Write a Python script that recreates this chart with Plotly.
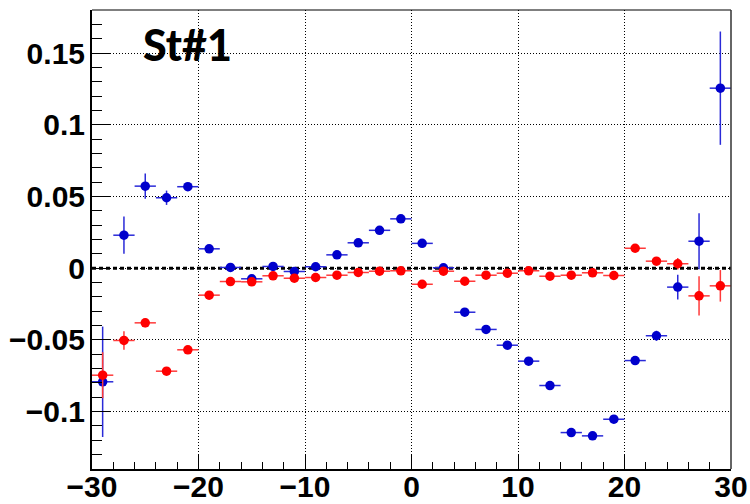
import plotly.graph_objects as go

# Bin centres (2-unit bins from -30 to 30)
x_centres = [-29, -27, -25, -23, -21, -19, -17, -15, -13, -11, -9, -7, -5, -3, -1,
             1, 3, 5, 7, 9, 11, 13, 15, 17, 19, 21, 23, 25, 27, 29]
x_half_width = [1.0] * len(x_centres)

blue_vals = [-0.0792, 0.0230, 0.0572, 0.0491, 0.0568, 0.0135, 0.0005, -0.0074, 0.0012, -0.0023,
             0.0010, 0.0093, 0.0177, 0.0264, 0.0344, 0.0173, 0.0003, -0.0307, -0.0427, -0.0537,
             -0.0648, -0.0818, -0.1146, -0.1169, -0.1053, -0.0644, -0.0471, -0.0132, 0.0188, 0.1255]
blue_errs = [0.0385, 0.0130, 0.0088, 0.0050, 0.0022, 0.0018, 0.0015, 0.0015, 0.0015, 0.0015,
             0.0015, 0.0015, 0.0015, 0.0015, 0.0015, 0.0015, 0.0015, 0.0015, 0.0015, 0.0015,
             0.0015, 0.0015, 0.0015, 0.0015, 0.0018, 0.0020, 0.0035, 0.0087, 0.0195, 0.0395]

red_vals = [-0.0746, -0.0504, -0.0381, -0.0718, -0.0569, -0.0188, -0.0093, -0.0095, -0.0053, -0.0070,
            -0.0065, -0.0049, -0.0030, -0.0021, -0.0018, -0.0112, -0.0021, -0.0091, -0.0049, -0.0035,
            -0.0018, -0.0056, -0.0049, -0.0032, -0.0051, 0.0139, 0.0049, 0.0031, -0.0193, -0.0123]
red_errs = [0.0160, 0.0064, 0.0030, 0.0020, 0.0018, 0.0015, 0.0015, 0.0015, 0.0015, 0.0015,
            0.0015, 0.0015, 0.0015, 0.0015, 0.0015, 0.0015, 0.0015, 0.0015, 0.0015, 0.0015,
            0.0015, 0.0015, 0.0015, 0.0015, 0.0015, 0.0018, 0.0022, 0.0040, 0.0137, 0.0110]

x_ticks = [-30, -20, -10, 0, 10, 20, 30]
x_tick_text = ["\u221230", "\u221220", "\u221210", "0", "10", "20", "30"]
y_ticks = [-0.1, -0.05, 0, 0.05, 0.1, 0.15]
y_tick_text = ["\u22120.1", "\u22120.05", "0", "0.05", "0.1", "0.15"]

label_text = "St#1"

tick_font = dict(family="Liberation Sans", size=30, color="black", weight="bold")
grid_dash = "1px,2px"


def series(y, err, marker_color, bar_color):
    return go.Scatter(
        x=x_centres, y=y, mode="markers",
        marker=dict(color=marker_color, size=9.5, line=dict(width=0)),
        error_x=dict(type="data", array=x_half_width, color=bar_color, thickness=1.5, width=0),
        error_y=dict(type="data", array=err, color=bar_color, thickness=1.5, width=0),
        showlegend=False,
    )


fig = go.Figure()
fig.add_trace(series(blue_vals, blue_errs, "#0000cc", "#2a2ad8"))
fig.add_trace(series(red_vals, red_errs, "#ff0000", "#ff3a3a"))

# dotted reference line at zero
fig.add_shape(type="line", xref="x", yref="y", x0=-30, x1=30, y0=0, y1=0,
              line=dict(color="black", width=3, dash="4px,3px"), layer="between")
# upper and right frame edges
fig.add_shape(type="line", xref="paper", yref="paper", x0=0, x1=1, y0=1, y1=1,
              line=dict(color="black", width=1.2))
fig.add_shape(type="line", xref="paper", yref="paper", x0=1, x1=1, y0=0, y1=1,
              line=dict(color="#333333", width=1.5))

fig.add_annotation(text=label_text, xref="paper", yref="paper", x=0.076, y=0.985,
                   xanchor="left", yanchor="top", showarrow=False,
                   font=dict(family="Lato", size=43, color="black", weight=900))

fig.update_xaxes(
    range=[-30, 30], tickvals=x_ticks, ticktext=x_tick_text, tickfont=tick_font,
    ticks="inside", ticklen=14, tickwidth=1, tickcolor="black",
    minor=dict(ticks="inside", ticklen=7, dtick=2, tick0=0, tickcolor="black", showgrid=False),
    showline=True, linewidth=2, linecolor="black",
    showgrid=True, gridcolor="black", gridwidth=1, griddash=grid_dash,
    zeroline=False, ticklabelstandoff=-10, automargin=False,
)
fig.update_yaxes(
    range=[-0.14, 0.18], tickvals=y_ticks, ticktext=y_tick_text, tickfont=tick_font,
    ticks="inside", ticklen=18, tickwidth=1, tickcolor="black",
    minor=dict(ticks="inside", ticklen=10, dtick=0.01, tick0=0, tickcolor="black", showgrid=False),
    showline=True, linewidth=2, linecolor="black",
    showgrid=True, gridcolor="black", gridwidth=1, griddash=grid_dash,
    zeroline=False, ticklabelstandoff=-1, automargin=False,
)

fig.update_layout(
    width=750, height=504,
    margin=dict(l=92, r=19, t=10, b=35, autoexpand=False),
    paper_bgcolor="white", plot_bgcolor="white",
    showlegend=False,
)

fig.write_html("out.html")
